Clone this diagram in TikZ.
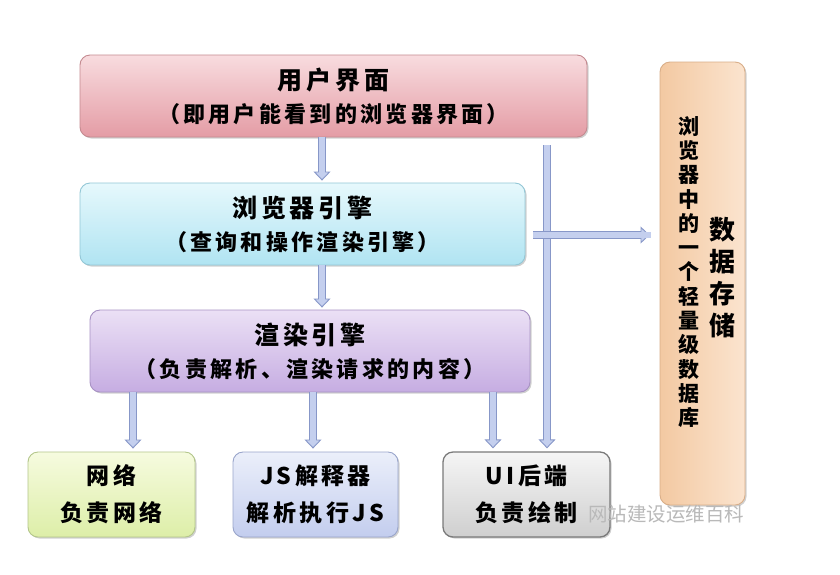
\documentclass[tikz,border=0pt]{standalone}
\usepackage{fontspec}
\setmainfont{Noto Sans CJK SC}
\usetikzlibrary{arrows.meta,shadows}
\definecolor{afill}{HTML}{C4CFEE}
\definecolor{aedge}{HTML}{8797C8}
\definecolor{uitop}{HTML}{F8DCDF}
\definecolor{uibot}{HTML}{E49CA5}
\definecolor{uiedge}{HTML}{C48A90}
\definecolor{betop}{HTML}{E6F8FC}
\definecolor{bebot}{HTML}{B0E4F2}
\definecolor{beedge}{HTML}{93C7D6}
\definecolor{retop}{HTML}{EBE0F5}
\definecolor{rebot}{HTML}{C6ADE2}
\definecolor{reedge}{HTML}{A892C4}
\definecolor{nettop}{HTML}{F6FBDF}
\definecolor{netbot}{HTML}{DDEEA8}
\definecolor{netedge}{HTML}{B3C68A}
\definecolor{jstop}{HTML}{EBEFFA}
\definecolor{jsbot}{HTML}{C3CDEE}
\definecolor{jsedge}{HTML}{99A5CB}
\definecolor{ubtop}{HTML}{F5F5F5}
\definecolor{ubbot}{HTML}{CFCFCF}
\definecolor{ubedge}{HTML}{7A7A7A}
\definecolor{dsl}{HTML}{F3C9A2}
\definecolor{dsr}{HTML}{FBE4CF}
\definecolor{dsedge}{HTML}{D9AE88}
\tikzset{
  box/.style={rounded corners=10pt, line width=0.9pt, align=center, inner sep=0pt,
    drop shadow={shadow xshift=1.5pt, shadow yshift=-1.5pt, opacity=.3, fill=black!60}},
  uistyle/.style={box, top color=uitop, bottom color=uibot, draw=uiedge},
  bestyle/.style={box, top color=betop, bottom color=bebot, draw=beedge},
  restyle/.style={box, top color=retop, bottom color=rebot, draw=reedge},
  netstyle/.style={box, top color=nettop, bottom color=netbot, draw=netedge},
  jsstyle/.style={box, top color=jstop, bottom color=jsbot, draw=jsedge},
  ubstyle/.style={box, top color=ubtop, bottom color=ubbot, draw=ubedge, line width=1.3pt},
  dsstyle/.style={box, left color=dsl, right color=dsr, draw=dsedge},
  bigbox/.style={font=\fontsize{22}{33}\selectfont\bfseries\addfontfeatures{LetterSpace=15}},
  smallbox/.style={font=\fontsize{23}{37}\selectfont\bfseries\addfontfeatures{LetterSpace=15}},
  flow/.style={line width=8pt, draw=aedge,
    -{Triangle[length=9pt,width=17pt,line width=0.9pt,fill=afill]},
    postaction={draw=afill, line width=6pt, -, shorten >=9pt}},
}
\newcommand{\ttl}[1]{{\fontsize{25}{33}\selectfont #1}}
\begin{document}
\begin{tikzpicture}[x=1pt,y=-1pt]
\useasboundingbox[fill=white] (0,0) rectangle (840,574);
% boxes
\node[uistyle, bigbox, minimum width=507pt, minimum height=82pt] (ui) at (333.5,96)
  {\ttl{用户界面}\\（即用户能看到的浏览器界面）};
\node[bestyle, bigbox, minimum width=445pt, minimum height=82pt] (be) at (302.5,224)
  {\ttl{浏览器引擎}\\（查询和操作渲染引擎）};
\node[restyle, bigbox, minimum width=440pt, minimum height=82pt] (re) at (310,351)
  {\ttl{渲染引擎}\\（负责解析、渲染请求的内容）};
\node[netstyle, smallbox, minimum width=167pt, minimum height=85pt] (net) at (111.5,494.5)
  {网络\\负责网络};
\node[jsstyle, smallbox, minimum width=165pt, minimum height=85pt] (js) at (315.5,494.5)
  {JS解释器\\解析执行JS};
\node[ubstyle, smallbox, minimum width=167pt, minimum height=85pt] (ub) at (526.5,494.5)
  {UI后端\\负责绘制};
\node[dsstyle, minimum width=85pt, minimum height=443pt] (ds) at (702.5,283.5) {};
\node[font=\fontsize{21}{24.3}\selectfont\bfseries, align=center, inner sep=0pt] (dsa) at (689,272)
  {浏\\览\\器\\中\\的\\一\\个\\轻\\量\\级\\数\\据\\库};
\node[font=\fontsize{26}{32}\selectfont\bfseries, align=center, inner sep=0pt] (dsb) at (722,278)
  {数\\据\\存\\储};
% coordinates for connector columns
\coordinate (c1) at (322,0);
\coordinate (c2) at (133,0);
\coordinate (c3) at (313,0);
\coordinate (c4) at (493,0);
\coordinate (c5) at (547,0);
\coordinate (r1) at (0,235);
% connectors
\draw[flow, shorten >=2pt] (ui.south -| c1) -- (be.north -| c1);
\draw[flow, shorten >=2pt] (be.south -| c1) -- (re.north -| c1);
\draw[flow, shorten >=3pt] (re.south -| c2) -- (net.north -| c2);
\draw[flow, shorten >=3pt] (re.south -| c3) -- (js.north -| c3);
\draw[flow, shorten >=3pt] (re.south -| c4) -- (ub.north -| c4);
\draw[flow, shorten <=8pt, shorten >=3pt] (ui.south -| c5) -- (ub.north -| c5);
\draw[flow, shorten <=8pt, shorten >=10pt] (be.east |- r1) -- (ds.west |- r1);
% watermark
\node[font=\fontsize{19.5}{22}\selectfont, text=gray!55] (wm) at (666,514) {网站建设运维百科};
\end{tikzpicture}
\end{document}
